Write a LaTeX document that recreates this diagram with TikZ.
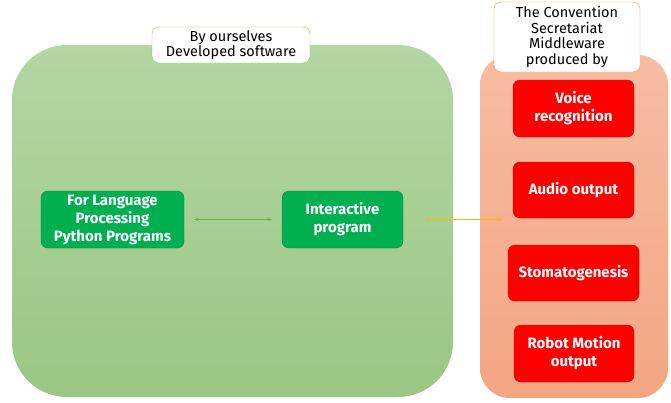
\documentclass[tikz,border=0pt]{standalone}
\usepackage{fontspec}
\setmainfont{Fira Sans}
\usepackage{tikz}
\usetikzlibrary{arrows.meta}

\definecolor{grpale}{HTML}{B3D6A3}
\definecolor{grdeep}{HTML}{9BC683}
\definecolor{orpale}{HTML}{F7BCA2}
\definecolor{ordeep}{HTML}{F3A582}
\definecolor{grbox}{HTML}{00B050}
\definecolor{grline}{HTML}{70AD47}
\definecolor{orline}{HTML}{ED7D31}
\definecolor{ylline}{HTML}{FFB800}

\tikzset{
  redbox/.style={draw=red!80!black, fill=red, rounded corners=7pt, text=white, align=center,
    font=\fontsize{15}{18}\selectfont\bfseries, inner sep=0pt},
  greenbox/.style={draw=grbox!75!black, fill=grbox, rounded corners=7pt, text=white, align=center,
    font=\fontsize{15}{18}\selectfont\bfseries, inner sep=0pt},
  tagbox/.style={fill=white, rounded corners=7pt, align=center, inner sep=0pt,
    font=\fontsize{14.5}{15.5}\selectfont},
  link/.style={{Stealth[length=4.5pt,width=3.5pt]}-{Stealth[length=4.5pt,width=3.5pt]}, line width=0.9pt}
}

\begin{document}
\begin{tikzpicture}[x=1pt,y=-1pt]
\useasboundingbox (0,0) rectangle (671,402);

% containers
\node[rounded corners=55pt, top color=grpale, bottom color=grdeep, minimum width=441pt, minimum height=352pt] (own) at (232.5,221) {};
\node[rounded corners=30pt, top color=orpale, bottom color=ordeep, minimum width=188pt, minimum height=343pt] (mw) at (574,226.5) {};

\node[tagbox, draw=grline!80!white, minimum width=158pt, minimum height=36pt] (owntag) at (231,45) {By ourselves\\Developed software};
\node[tagbox, draw=orline!80!white, minimum width=146pt, minimum height=70pt] (mwtag) at (567,37) {The Convention\\Secretariat\\Middleware\\produced by};

% own programs
\node[greenbox, minimum width=143pt, minimum height=57pt] (lang) at (112.5,219.5) {For Language\\Processing\\Python Programs};
\node[greenbox, minimum width=121pt, minimum height=57pt] (inter) at (342.5,219.5) {Interactive\\program};

% middleware
\node[redbox, minimum width=121pt, minimum height=57pt] (voice) at (573.5,108.5) {Voice\\recognition};
\node[redbox, minimum width=121pt, minimum height=56pt] (audio) at (573.5,190) {Audio output};
\node[redbox, minimum width=131pt, minimum height=56pt] (stoma) at (573.5,273) {Stomatogenesis};
\node[redbox, minimum width=120pt, minimum height=57pt] (robot) at (574,353.5) {Robot Motion\\output};

\coordinate (mwin) at (502,219.5);

\draw[link, grline, shorten <=10pt, shorten >=10pt] (lang) -- (inter);
\draw[link, draw=ylline, fill=ylline, shorten <=22pt] (inter.east) -- (mwin);
\end{tikzpicture}
\end{document}
